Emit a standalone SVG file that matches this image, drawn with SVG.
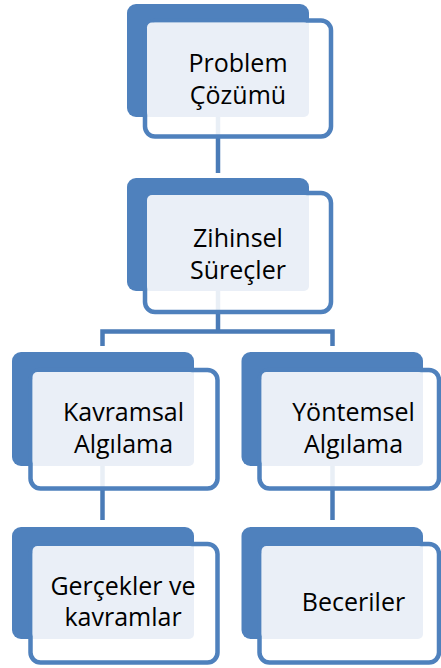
<svg xmlns="http://www.w3.org/2000/svg" width="441" height="668" viewBox="0 0 441 668">
  <style>
    .back { fill: #4F81BD; }
    .frame { fill: #FFFFFF; fill-opacity: 0.88; stroke: #4F81BD; stroke-width: 4.5; }
    .face { fill: #EAEFF7; }
    .lbl { font-family: "Open Sans", "Noto Sans", "Liberation Sans", sans-serif; font-size: 25px; fill: #000000; text-anchor: middle; }
    .link { fill: none; stroke: #4A7BB7; stroke-width: 4.5; stroke-linejoin: miter; }
  </style>

  <!-- connectors sit underneath the node frames -->
  <g id="connectors">
    <path class="link" d="M218 117 V173"/>
    <path class="link" d="M218 291 V331.5"/>
    <path class="link" d="M102.5 346 V331.5 H332.5 V346"/>
    <path class="link" d="M102.5 466 V520"/>
    <path class="link" d="M332.5 466 V520"/>
  </g>

  <g id="node-problem">
    <rect class="back" x="127" y="4" width="182" height="113" rx="9"/>
    <rect class="frame" x="145" y="20.5" width="186" height="116" rx="10"/>
    <rect class="face" x="147" y="22.5" width="162" height="94.5" rx="5"/>
    <text class="lbl" x="238" y="72">Problem</text>
    <text class="lbl" x="238" y="103.5">Çözümü</text>
  </g>

  <g id="node-zihinsel">
    <rect class="back" x="127" y="178" width="182" height="113" rx="9"/>
    <rect class="frame" x="145" y="193" width="186" height="119" rx="10"/>
    <rect class="face" x="147" y="195" width="162" height="96" rx="5"/>
    <text class="lbl" x="238" y="247">Zihinsel</text>
    <text class="lbl" x="238" y="279">Süreçler</text>
  </g>

  <g id="node-kavramsal">
    <rect class="back" x="12" y="352" width="182" height="114" rx="9"/>
    <rect class="frame" x="30.5" y="370" width="187" height="118.5" rx="10"/>
    <rect class="face" x="32.5" y="372" width="161.5" height="94" rx="5"/>
    <text class="lbl" x="123.5" y="421">Kavramsal</text>
    <text class="lbl" x="123.5" y="452.5">Algılama</text>
  </g>

  <g id="node-yontemsel">
    <rect class="back" x="241.5" y="352" width="181.5" height="114" rx="9"/>
    <rect class="frame" x="259.5" y="370" width="179.5" height="118.5" rx="10"/>
    <rect class="face" x="261.5" y="372" width="161.5" height="94" rx="5"/>
    <text class="lbl" x="353.5" y="421">Yöntemsel</text>
    <text class="lbl" x="353.5" y="452.5">Algılama</text>
  </g>

  <g id="node-gercekler">
    <rect class="back" x="12" y="527" width="182" height="112" rx="9"/>
    <rect class="frame" x="30.5" y="544" width="187" height="118.5" rx="10"/>
    <rect class="face" x="32.5" y="546" width="161.5" height="93" rx="5"/>
    <text class="lbl" x="123" y="594.5">Gerçekler ve</text>
    <text class="lbl" x="123" y="626">kavramlar</text>
  </g>

  <g id="node-beceriler">
    <rect class="back" x="241.5" y="527" width="181.5" height="112" rx="9"/>
    <rect class="frame" x="259.5" y="544" width="179.5" height="118.5" rx="10"/>
    <rect class="face" x="261.5" y="546" width="161.5" height="93" rx="5"/>
    <text class="lbl" x="353.5" y="610.5">Beceriler</text>
  </g>
</svg>
